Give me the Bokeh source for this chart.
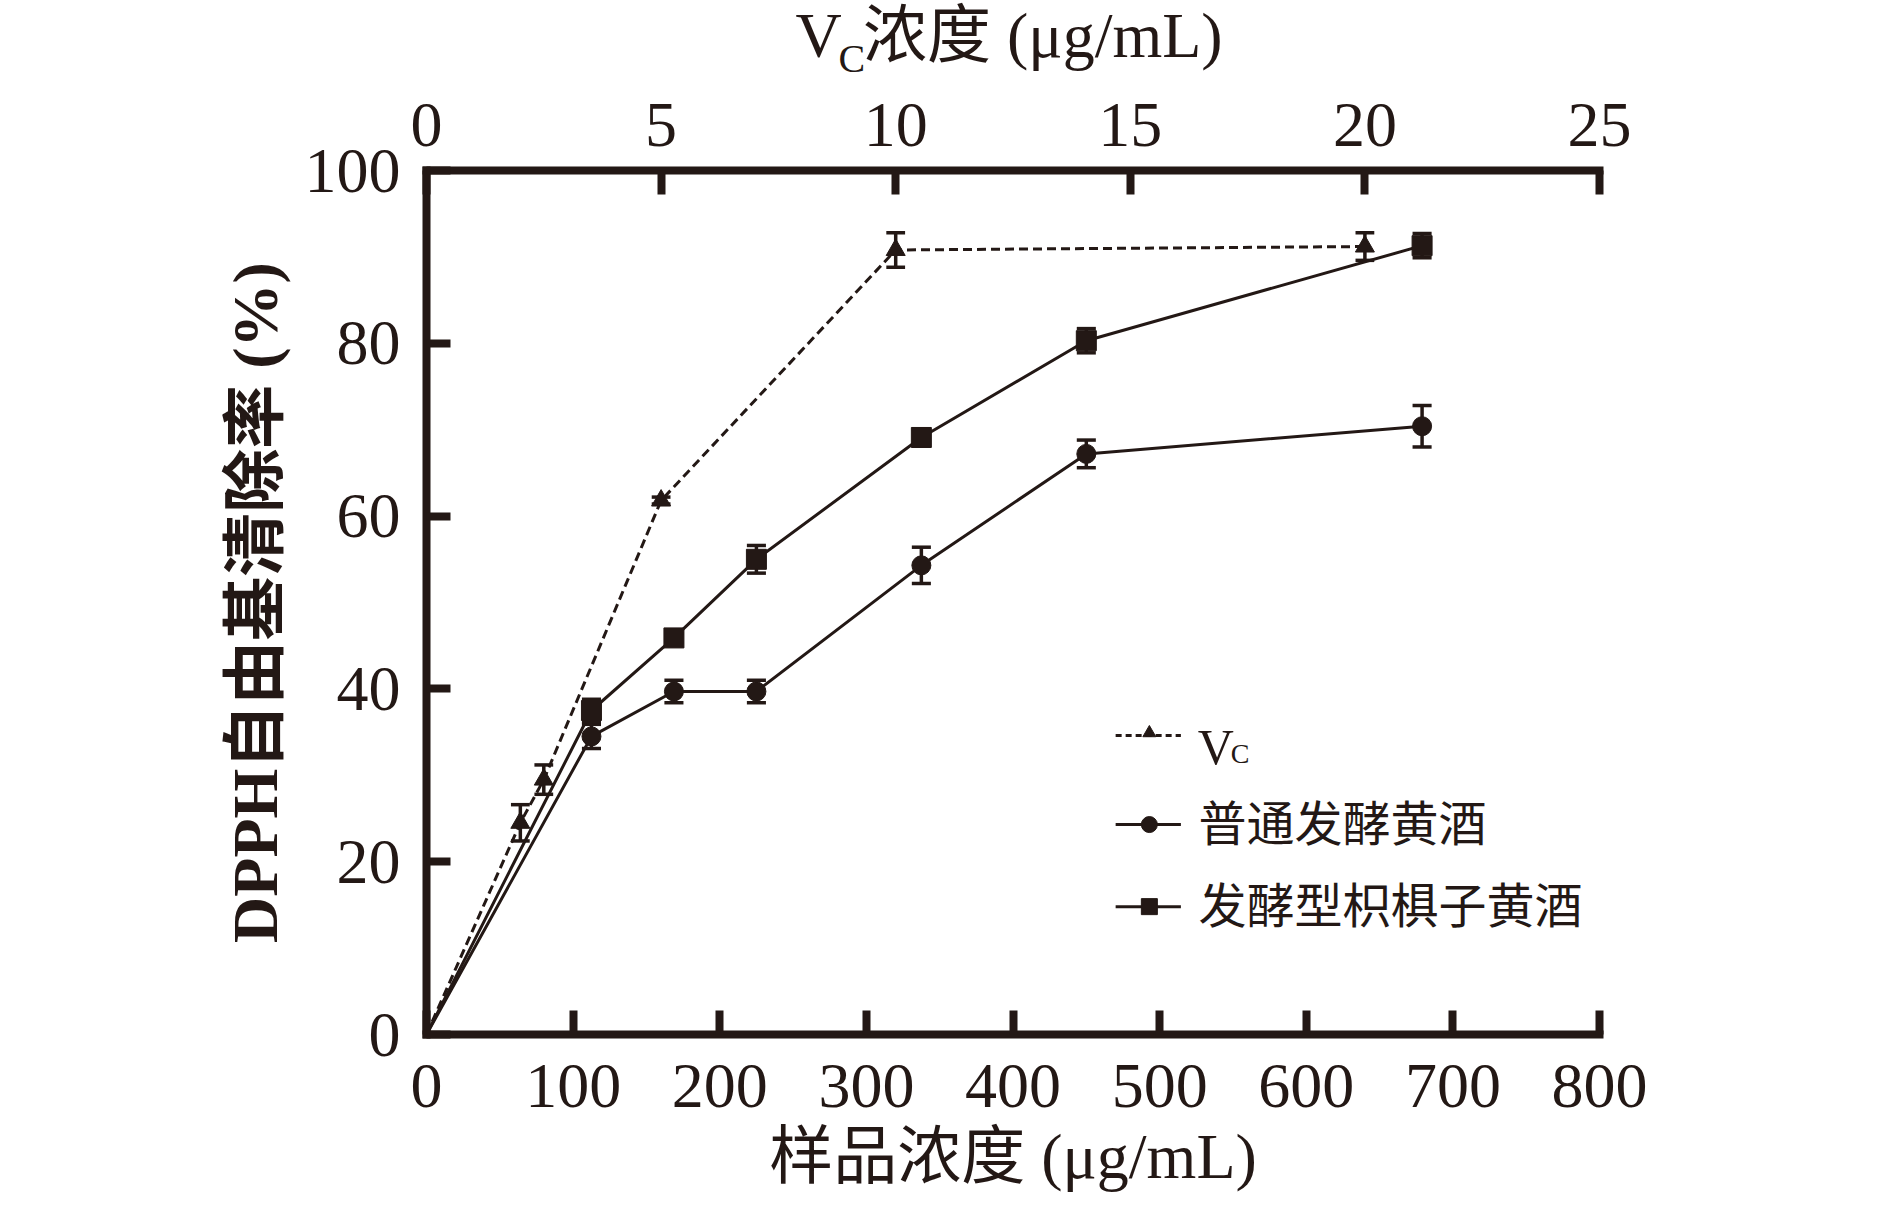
from bokeh.plotting import figure
from bokeh.models import Range1d, LinearAxis, FixedTicker, Label, Title
from bokeh.embed import file_html
from bokeh.resources import INLINE

INK = "#231815"
LAT = "Liberation Serif"
MIX = "Liberation Serif, Noto Sans CJK SC"

# ---- data ----
vc_conc = [0, 2, 2.5, 5, 10, 20]                 # Vc concentration (top axis, ug/mL)
vc_rate = [0, 24.5, 29.5, 61.8, 90.8, 91.2]      # DPPH scavenging %
vc_err = [0, 2.1, 1.7, 0.4, 2.0, 1.6]

sample_conc = [0, 112.5, 168.75, 225, 337.5, 450, 679]   # sample concentration (bottom axis)
common_rate = [0, 34.5, 39.7, 39.7, 54.3, 67.2, 70.4]    # 普通发酵黄酒
common_err = [0, 1.4, 1.3, 1.3, 2.1, 1.6, 2.4]
zhiju_rate = [0, 37.5, 45.9, 55.0, 69.1, 80.3, 91.3]     # 发酵型枳椇子黄酒
zhiju_err = [0, 1.3, 0.5, 1.6, 1.0, 1.4, 1.4]

bottom_ticks = [0, 100, 200, 300, 400, 500, 600, 700, 800]
top_ticks = [0, 5, 10, 15, 20, 25]
y_ticks = [0, 20, 40, 60, 80, 100]

series_names = ["V", "普通发酵黄酒", "发酵型枳椇子黄酒"]
x_title = "样品浓度 (μg/mL)"
y_title = "DPPH自由基清除率 (%)"
top_title_main = "V\u2004浓度 (μg/mL)"
top_title_sub = "C"

p = figure(width=1874, height=1195, x_range=Range1d(0, 800), y_range=Range1d(0, 100),
           output_backend="svg", toolbar_location=None,
           min_border_left=426, min_border_right=275, min_border_top=170, min_border_bottom=161)
try:
    p.title = None
except Exception:
    pass
p.extra_x_ranges = {"vc": Range1d(0, 25)}
p.outline_line_color = None
p.xgrid.visible = False
p.ygrid.visible = False
p.background_fill_color = "white"
p.border_fill_color = "white"


def style(ax, ticks, standoff):
    ax.ticker = FixedTicker(ticks=ticks)
    ax.axis_line_width = 8
    ax.axis_line_color = INK
    ax.axis_line_cap = "square"
    ax.major_tick_line_width = 8
    ax.major_tick_line_color = INK
    ax.major_tick_in = 24
    ax.major_tick_out = 0
    ax.minor_tick_line_color = None
    ax.major_label_text_font = LAT
    ax.major_label_text_font_size = "64px"
    ax.major_label_text_color = INK
    ax.major_label_standoff = standoff


def spacer(ax, gap):
    # an invisible, 1px axis label that only adds room between the tick labels and the title
    ax.axis_label = "\u00a0"
    ax.axis_label_text_font_size = "1px"
    ax.axis_label_standoff = gap


bottom_axis = p.below[0]
left_axis = p.left[0]
style(bottom_axis, bottom_ticks, 30)
style(left_axis, y_ticks, 26)
top_axis = LinearAxis(x_range_name="vc")
style(top_axis, top_ticks, 25)
p.add_layout(top_axis, "above")
spacer(top_axis, 22)
spacer(bottom_axis, 18)

left_axis.axis_label = y_title
left_axis.axis_label_text_font = MIX
left_axis.axis_label_text_font_size = "64px"
left_axis.axis_label_text_font_style = "bold"
left_axis.axis_label_text_color = INK
left_axis.axis_label_standoff = 11

# top axis title V_C浓度 (μg/mL): subscript row first (nearest the axis), then the main row
p.add_layout(Title(text=top_title_sub, align="left", offset=412, standoff=-12,
                   text_font=LAT, text_font_size="40px", text_font_style="normal",
                   text_color=INK), "above")
p.add_layout(Title(text=top_title_main, align="left", offset=369, standoff=-62,
                   text_font=MIX, text_font_size="64px", text_font_style="normal",
                   text_color=INK), "above")
# bottom axis title
p.add_layout(Title(text=x_title, align="center", standoff=-26,
                   text_font=MIX, text_font_size="64px", text_font_style="normal",
                   text_color=INK), "below")


def errorbars(xs, ys, es, half, rng=None):
    kw = {"x_range_name": rng} if rng else {}
    x = xs[1:]
    lo = [y - e for y, e in zip(ys[1:], es[1:])]
    hi = [y + e for y, e in zip(ys[1:], es[1:])]
    p.segment(x0=x, y0=lo, x1=x, y1=hi, line_color=INK, line_width=3.5, **kw)
    p.segment(x0=[v - half for v in x], y0=hi, x1=[v + half for v in x], y1=hi,
              line_color=INK, line_width=3.5, **kw)
    p.segment(x0=[v - half for v in x], y0=lo, x1=[v + half for v in x], y1=lo,
              line_color=INK, line_width=3.5, **kw)


# Vc (top axis)
p.line(vc_conc, vc_rate, x_range_name="vc", line_color=INK, line_width=3, line_dash="9 5")
errorbars(vc_conc, vc_rate, vc_err, 0.2, "vc")
p.scatter(vc_conc[1:], vc_rate[1:], x_range_name="vc", marker="triangle", size=19,
          fill_color=INK, line_color=INK)

# samples (bottom axis)
p.line(sample_conc, common_rate, line_color=INK, line_width=3)
errorbars(sample_conc, common_rate, common_err, 6.5)
p.scatter(sample_conc[1:], common_rate[1:], marker="circle", size=19, fill_color=INK, line_color=INK)

p.line(sample_conc, zhiju_rate, line_color=INK, line_width=3)
errorbars(sample_conc, zhiju_rate, zhiju_err, 6.5)
p.scatter(sample_conc[1:], zhiju_rate[1:], marker="square", size=20, fill_color=INK, line_color=INK)

# ---- legend (drawn manually to allow the subscript) ----
lx0, lx1, lxm = 470.0, 514.5, 493.0
rows = [34.6, 24.3, 14.8]
p.line([lx0, lx1], [rows[0], rows[0]], line_color=INK, line_width=3, line_dash="6 4")
p.scatter([lxm], [rows[0] + 0.3], marker="triangle", size=13, fill_color=INK, line_color=INK)
p.line([lx0, lx1], [rows[1], rows[1]], line_color=INK, line_width=3)
p.scatter([lxm], [rows[1]], marker="circle", size=16, fill_color=INK, line_color=INK)
p.line([lx0, lx1], [rows[2], rows[2]], line_color=INK, line_width=3)
p.scatter([lxm], [rows[2]], marker="square", size=16, fill_color=INK, line_color=INK)

p.add_layout(Label(x=526.0, y=33.25, text=series_names[0], text_font=LAT, text_font_size="50px",
                   text_color=INK, text_align="left", text_baseline="alphabetic"))
p.add_layout(Label(x=548.5, y=32.55, text="C", text_font=LAT, text_font_size="28px",
                   text_color=INK, text_align="left", text_baseline="alphabetic"))
for name, ry in zip(series_names[1:], rows[1:]):
    p.add_layout(Label(x=526.5, y=ry, text=name, text_font=MIX, text_font_size="48px",
                       text_color=INK, text_align="left", text_baseline="middle"))

open("out.html", "w").write(file_html(p, INLINE))
